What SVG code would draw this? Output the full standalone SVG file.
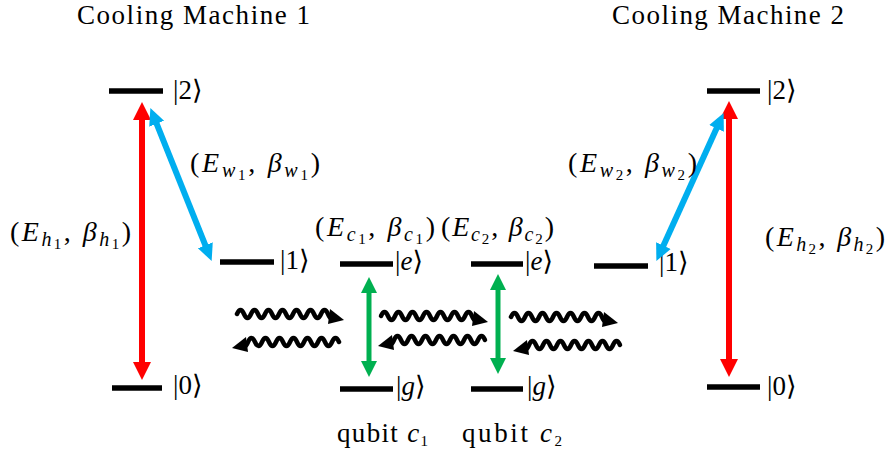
<svg xmlns="http://www.w3.org/2000/svg" width="890" height="454" viewBox="0 0 890 454">
<style>
.t{font-size:27px;fill:#000;font-family:'Liberation Serif','DejaVu Serif',serif}
.m{font-size:28px}
.i{font-style:italic}
.s{font-size:20px;font-style:italic}
.ss{font-size:15px;font-style:normal}
.lvl{stroke:#000;stroke-width:5.5;fill:none}
.red{stroke:#FF0000;stroke-width:6;fill:none}
.blue{stroke:#00AEEF;stroke-width:6;fill:none}
.green{stroke:#00B050;stroke-width:5;fill:none}
.wv{stroke:#000;stroke-width:4.5;fill:none;stroke-linecap:round}
</style>
<defs>
<marker id="hr" markerUnits="userSpaceOnUse" markerWidth="18" markerHeight="18" refX="8" refY="9" orient="auto-start-reverse"><path d="M0,0 L18,9 L0,18 z" fill="#FF0000"/></marker>
<marker id="hb" markerUnits="userSpaceOnUse" markerWidth="18" markerHeight="18" refX="8" refY="9" orient="auto-start-reverse"><path d="M0,1 L17,9 L0,17 z" fill="#00AEEF"/></marker>
<marker id="hg" markerUnits="userSpaceOnUse" markerWidth="18" markerHeight="18" refX="7" refY="9" orient="auto-start-reverse"><path d="M0,1 L16,9 L0,17 z" fill="#00B050"/></marker>
<g id="waveR">
<path class="wv" d="M0,0 q3.5,-8 7,0 t7,0 t7,0 t7,0 t7,0 t7,0 t7,0 t7,0 t7,0 t7,0 t7,0 t7,0 t7,0 t5,2"/>
<polygon points="93,-5 107,6 91,10" fill="#000"/>
</g>
<g id="waveL"><use href="#waveR" transform="scale(-1,1)"/></g>
</defs>

<g id="titles">
<text class="t" x="77" y="24" textLength="233" lengthAdjust="spacing">Cooling Machine 1</text>
<text class="t" x="612" y="24" textLength="232" lengthAdjust="spacing">Cooling Machine 2</text>
</g>

<g id="cm1-level2"><line class="lvl" x1="109" y1="91" x2="163" y2="91"/><text class="t" x="173" y="99">|2⟩</text></g>
<g id="cm1-level1"><line class="lvl" x1="220" y1="262" x2="274" y2="262"/><text class="t" x="280" y="269">|1⟩</text></g>
<g id="cm1-level0"><line class="lvl" x1="112" y1="388" x2="162" y2="388"/><text class="t" x="173" y="394">|0⟩</text></g>

<g id="c1-e"><line class="lvl" x1="340" y1="264" x2="393" y2="264"/><text class="t" x="395" y="270">|<tspan class="i">e</tspan>⟩</text></g>
<g id="c1-g"><line class="lvl" x1="340" y1="389" x2="393" y2="389"/><text class="t" x="396" y="395">|<tspan class="i">g</tspan>⟩</text></g>
<g id="c2-e"><line class="lvl" x1="471" y1="264" x2="523" y2="264"/><text class="t" x="525" y="270">|<tspan class="i">e</tspan>⟩</text></g>
<g id="c2-g"><line class="lvl" x1="471" y1="389" x2="523" y2="389"/><text class="t" x="527" y="395">|<tspan class="i">g</tspan>⟩</text></g>

<g id="cm2-level2"><line class="lvl" x1="707" y1="91" x2="760" y2="91"/><text class="t" x="767" y="99">|2⟩</text></g>
<g id="cm2-level1"><line class="lvl" x1="594" y1="266" x2="648" y2="266"/><text class="t" x="659" y="271">|1⟩</text></g>
<g id="cm2-level0"><line class="lvl" x1="707" y1="387" x2="760" y2="387"/><text class="t" x="767" y="395">|0⟩</text></g>

<g id="qubit-labels">
<text class="t" x="337" y="442" textLength="91" lengthAdjust="spacing">qubit <tspan class="i">c</tspan><tspan class="ss" dy="4">1</tspan></text>
<text class="t" x="462" y="442" textLength="100" lengthAdjust="spacing">qubit <tspan class="i">c</tspan><tspan class="ss" dy="4">2</tspan></text>
</g>

<g id="connectors">
<line class="red" x1="142" y1="112" x2="142" y2="370" marker-start="url(#hr)" marker-end="url(#hr)"/>
<line class="red" x1="729" y1="111" x2="729" y2="367" marker-start="url(#hr)" marker-end="url(#hr)"/>
<line class="blue" x1="153.7" y1="116.3" x2="208.3" y2="252.7" marker-start="url(#hb)" marker-end="url(#hb)"/>
<line class="blue" x1="660.1" y1="252.9" x2="719.9" y2="121.1" marker-start="url(#hb)" marker-end="url(#hb)"/>
<line class="green" x1="369" y1="286" x2="369" y2="368" marker-start="url(#hg)" marker-end="url(#hg)"/>
<line class="green" x1="498" y1="283" x2="498" y2="365" marker-start="url(#hg)" marker-end="url(#hg)"/>
<use href="#waveR" transform="translate(237,314)"/>
<use href="#waveR" transform="translate(381,316)"/>
<use href="#waveR" transform="translate(511,317)"/>
<use href="#waveL" transform="translate(339,342)"/>
<use href="#waveL" transform="translate(485,340)"/>
<use href="#waveL" transform="translate(620,345)"/>
</g>

<g id="labels">
<text class="t m" x="10" y="241" textLength="121" lengthAdjust="spacing">(<tspan class="i">E</tspan><tspan class="s" dy="5">h</tspan><tspan class="ss" dy="3">1</tspan><tspan dy="-8">, </tspan><tspan class="i">β</tspan><tspan class="s" dy="5">h</tspan><tspan class="ss" dy="3">1</tspan><tspan dy="-8">)</tspan></text>
<text class="t m" x="190" y="172" textLength="130" lengthAdjust="spacing">(<tspan class="i">E</tspan><tspan class="s" dy="5">w</tspan><tspan class="ss" dy="3">1</tspan><tspan dy="-8">, </tspan><tspan class="i">β</tspan><tspan class="s" dy="5">w</tspan><tspan class="ss" dy="3">1</tspan><tspan dy="-8">)</tspan></text>
<text class="t m" x="315" y="236" textLength="120" lengthAdjust="spacing">(<tspan class="i">E</tspan><tspan class="s" dy="5">c</tspan><tspan class="ss" dy="3">1</tspan><tspan dy="-8">, </tspan><tspan class="i">β</tspan><tspan class="s" dy="5">c</tspan><tspan class="ss" dy="3">1</tspan><tspan dy="-8">)</tspan></text>
<text class="t m" x="441" y="236" textLength="113" lengthAdjust="spacing">(<tspan class="i">E</tspan><tspan class="s" dy="5">c</tspan><tspan class="ss" dy="3">2</tspan><tspan dy="-8">, </tspan><tspan class="i">β</tspan><tspan class="s" dy="5">c</tspan><tspan class="ss" dy="3">2</tspan><tspan dy="-8">)</tspan></text>
<text class="t m" x="568" y="172" textLength="129" lengthAdjust="spacing">(<tspan class="i">E</tspan><tspan class="s" dy="5">w</tspan><tspan class="ss" dy="3">2</tspan><tspan dy="-8">, </tspan><tspan class="i">β</tspan><tspan class="s" dy="5">w</tspan><tspan class="ss" dy="3">2</tspan><tspan dy="-8">)</tspan></text>
<text class="t m" x="765" y="246" textLength="120" lengthAdjust="spacing">(<tspan class="i">E</tspan><tspan class="s" dy="5">h</tspan><tspan class="ss" dy="3">2</tspan><tspan dy="-8">, </tspan><tspan class="i">β</tspan><tspan class="s" dy="5">h</tspan><tspan class="ss" dy="3">2</tspan><tspan dy="-8">)</tspan></text>
</g>
</svg>
